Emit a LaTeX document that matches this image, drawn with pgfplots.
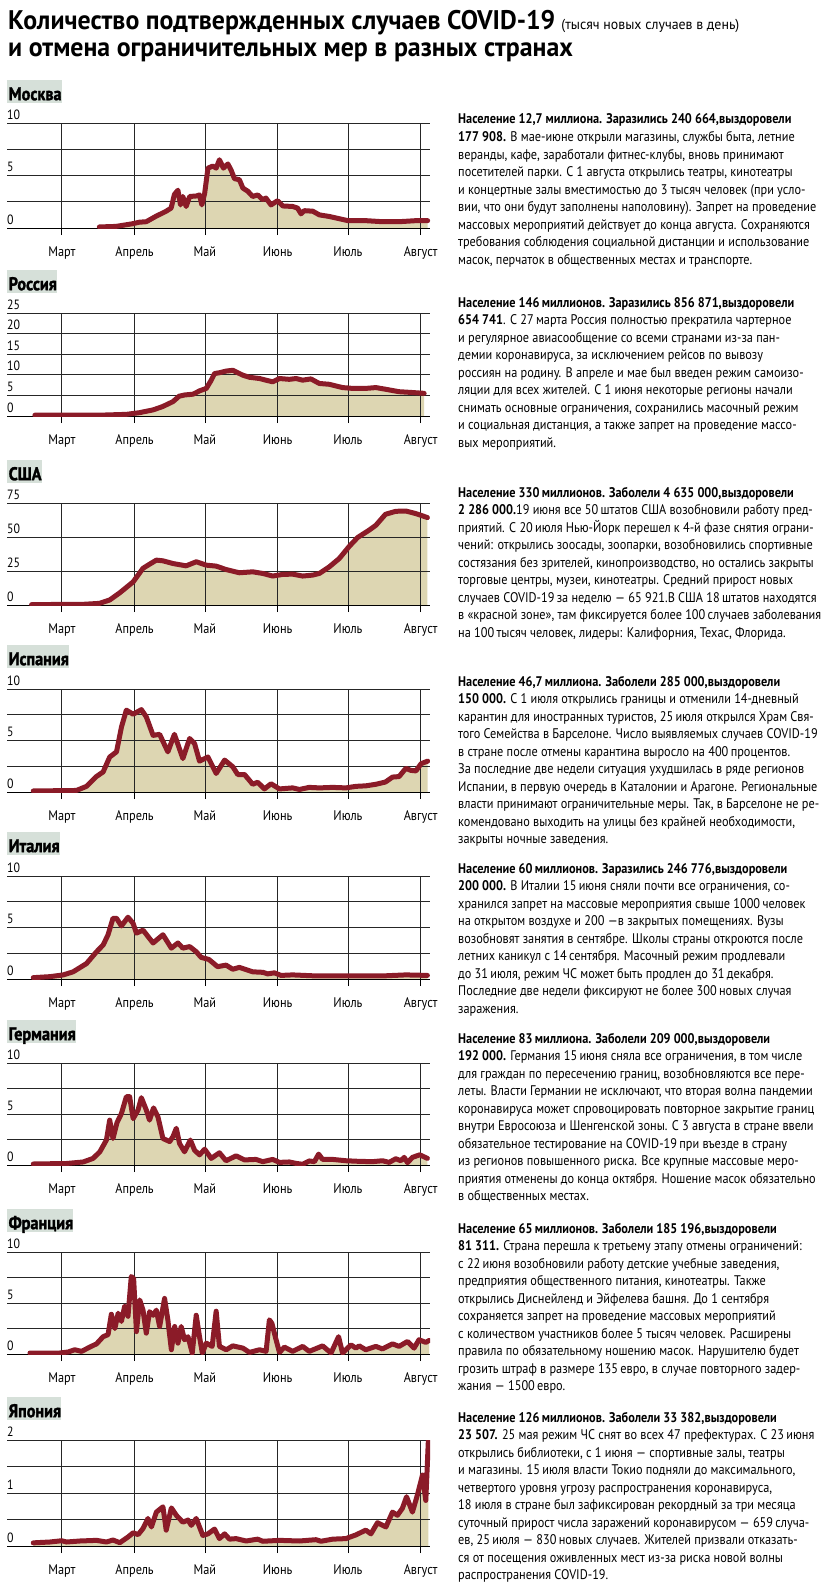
\documentclass[border=0pt]{standalone}
\usepackage{fontspec}
\setmainfont[FakeStretch=0.88]{PT Sans}
\newfontfamily\titlefont[FakeStretch=0.96]{PT Sans}
\newfontfamily\boxfont[FakeStretch=0.88, FakeBold=1.6]{PT Sans}
\usepackage{pgfplots}
\usepackage{pgfplotstable}
\pgfplotsset{compat=1.18}

\definecolor{fillc}{RGB}{221,214,178}
\definecolor{linec}{RGB}{139,27,40}
\definecolor{boxc}{RGB}{214,224,217}

% days counted from 1 March 2020, values in thousands per day
\pgfplotstableread{
d v
16 0.1
23 0.15
30 0.4
33 0.55
36 0.6
40 1.1
44.5 1.6
46.6 1.9
48 3.2
49.5 3.6
50.6 2.2
51.6 3.0
53 2.05
54.5 3.0
57.3 3.05
58.7 3.15
59.7 2.2
60.9 3.3
62.3 5.7
64.4 5.9
65.8 5.7
67.2 6.5
68.9 5.7
70.8 6.1
72.2 5.5
73.6 4.7
75.7 4.6
77.2 3.8
79.3 3.5
81.4 3.0
83.5 3.15
85.6 2.7
87 2.85
89.2 2.2
92 2.6
94.2 2.1
98.4 2.05
100.5 1.9
102 1.35
103.4 1.65
107 1.6
109.8 1.25
114 1.1
117 0.95
122 0.7
129.6 0.7
136.7 0.6
143.8 0.6
151 0.7
156 0.7
}\moscow

\pgfplotstableread{
d v
-11.5 0.2
2 0.2
16 0.2
27.5 0.4
33 0.8
39 1.5
43 2.3
47.4 3.5
50 4.8
52.3 5.1
56 5.3
58.7 6.1
61.6 6.7
63.7 8.7
65.1 10.3
67.2 10.5
70 10.9
72.9 11.1
74.3 10.7
77.2 9.9
80 9.4
84.3 9.1
87 8.7
89.9 8.3
92.8 9.1
97 8.9
99.9 9.1
102.7 8.7
106.2 9.0
109.8 7.9
114 7.7
119.7 6.9
124 6.7
129.6 6.7
133.9 6.9
138 6.5
143.8 5.9
149.5 5.7
154.5 5.5
}\russia

\pgfplotstableread{
d v
-12.9 0.3
9 0.5
16 1.2
20.4 3.7
24.7 9
30.4 17
34.6 27
37.4 30
40.3 33
43.1 32.5
47.4 30.5
53 28.8
57.3 31.8
61.6 29.3
65.8 28.6
70 26.1
75.7 23.7
81.4 24.4
85.7 23.2
89.9 21.3
94.2 22.5
98.4 22.7
102.7 21.3
107 22
109.8 23.2
114 28
118.3 34.2
122.6 43.2
126.1 49.6
131 55
133.9 58.6
138 66.7
142.4 68.9
146.7 69.1
151 67.2
155.9 64.3
}\usa

\pgfplotstableread{
d v
-12.2 0.1
6.2 0.15
10.5 0.55
14.7 1.5
17.6 1.95
20.4 3.4
23.3 3.9
25.4 6.3
27.5 7.95
30.4 7.55
33.9 8.0
36 7.3
38.9 5.5
41.7 5.6
45.2 3.9
48 5.6
51.6 3.25
54.5 5.2
56.6 4.7
58.7 3.0
62.3 3.4
65.8 1.8
69.4 3.1
72.9 2.45
75 1.7
77.9 1.7
81.4 0.75
83.5 0.95
86.4 0.3
89.2 0.8
92.8 0.3
98.4 0.4
101.3 0.25
105.5 0.45
109.8 0.4
115.5 0.45
121.1 0.4
125.4 0.55
129.6 0.6
133.9 0.75
138 0.97
141 1.45
143.8 1.5
146.7 2.3
148.8 2.1
151 2.05
153.2 2.75
156 3.0
}\spain

\pgfplotstableread{
d v
-12.2 0.13
-5.1 0.23
0.6 0.4
4.8 0.7
10.5 1.5
14.8 2.65
17.6 3.3
19.7 4.3
21.8 5.9
23.3 5.9
25.4 5.15
28.2 6.0
30.4 5.4
31.8 4.45
34.6 4.75
38.9 3.5
43.1 4.3
46.7 3.0
49.5 3.5
51.6 3.0
54.5 3.15
57.3 2.65
59.4 2.1
62.7 1.9
66.4 1.2
70 1.35
72.9 0.95
75.7 1.13
81.4 0.7
85.7 0.65
87.8 0.5
90.6 0.6
93.5 0.35
98.4 0.4
108.4 0.3
122.6 0.3
136.7 0.3
146.7 0.4
155.9 0.35
}\italy

\pgfplotstableread{
d v
-12.2 0.1
2 0.15
9.1 0.3
13.3 0.65
16.2 1.3
19 2.45
20.4 4.4
21.8 2.6
23.5 4.15
25.4 5.05
27.5 6.7
28.9 6.7
30.4 4.55
32.5 5.4
33.9 6.6
36 5.4
37.4 4.4
39.1 5.6
41 4.7
43.1 2.6
46 2.3
47.4 2.8
48.8 3.6
50.2 2.1
52.3 1.3
54.8 2.45
56.6 1.45
58.7 1.0
60.9 1.55
63.7 0.65
67.2 1.2
70 0.42
74.3 0.9
77.9 0.5
82.8 0.55
85.7 0.33
89.9 0.55
92.8 0.26
97 0.3
99.9 0.16
102.7 0.07
105.5 0.4
107.7 0.33
109.5 1.07
111.2 0.55
115.5 0.55
121.1 0.42
126.8 0.36
132.5 0.33
136.7 0.42
139.6 0.26
142.4 0.62
144.5 0.42
146 0.75
147.4 0.23
149.5 0.75
152.6 1.0
154.5 0.8
155.9 0.65
}\germany

\pgfplotstableread{
d v
-13.6 0.1
-0.9 0.1
2.7 0.2
5.5 0.42
8.4 0.26
11.9 0.68
14.8 1.0
17.6 1.7
19.7 1.9
21.1 3.9
22.6 2.5
24 4.0
25.4 3.2
26.8 4.7
28.2 3.7
29.6 7.6
30.6 7.4
31.8 2.2
33.2 5.3
34.6 4.3
36 2.05
37.4 4.15
38.9 3.8
40.3 4.3
41.7 2.7
43.8 5.45
45.2 3.35
46.7 0.42
48.1 2.7
49.5 1.07
50.9 2.7
52.3 1.4
53.8 1.7
55.6 0.1
57.3 3.8
58.7 1.7
59.9 0.1
61.6 1.07
64.1 0.75
65.8 4.2
67.2 0.75
70.1 0.42
72.9 0.8
77.2 0.58
80 0.16
84.3 0.42
87.1 0.26
88.5 3.35
89.6 3.0
91 1.7
92.8 0.16
94.9 0.68
98.4 0.26
102.7 0.75
105.5 0.26
111.2 0.8
114.8 0.1
118 1.7
119.7 0.1
123.3 0.9
125.4 0.58
126.8 0.8
129.6 0.42
133.9 0.75
136.7 0.5
141 1.0
143.8 0.75
147.4 1.23
150.2 0.58
152.3 1.4
155.2 1.14
156.6 1.33
}\france

\pgfplotstableread{
d v
-12.2 0.06
-5.1 0.076
-0.1 0.1
2 0.076
7.7 0.095
14.8 0.107
19 0.076
21.8 0.114
24.7 0.063
28.2 0.17
30.4 0.25
32.5 0.215
34.6 0.33
36.7 0.52
38.2 0.36
40.3 0.64
43.1 0.74
44.5 0.3
46.7 0.72
48.8 0.58
51.6 0.45
53.8 0.49
55.2 0.39
57.3 0.52
60.1 0.2
62.3 0.23
65.1 0.32
67.2 0.14
69.4 0.23
71.5 0.13
74.3 0.14
78.6 0.095
83.5 0.13
85.7 0.09
92.8 0.107
101.3 0.095
108.4 0.12
110.5 0.09
115.5 0.13
121.1 0.14
125.4 0.21
129.6 0.3
131.8 0.23
134.6 0.44
138.2 0.36
141 0.64
143.1 0.58
145.2 0.71
147 0.93
149.5 0.64
151.6 0.96
153.8 1.34
155.2 0.86
156.3 2.0
}\japan

\pgfplotsset{
  panel/.style={
    width=423bp, scale only axis, anchor=north west,
    xmin=-23.4, xmax=157, ymin=0,
    axis x line*=bottom, axis y line*=left,
    y axis line style={draw=none},
    x axis line style={black, line width=0.9bp},
    xtick={0,31,61,92,122,153},
    xticklabels={Март,Апрель,Май,Июнь,Июль,Август},
    xmajorgrids, ymajorgrids,
    grid style={black!85, line width=0.8bp},
    xtick align=outside, ytick align=inside,
    major tick length=7bp,
    major x tick style={black, line width=0.8bp},
    major y tick style={draw=none},
    xticklabel style={font=\fontsize{14}{14}\selectfont, yshift=-8bp},
    yticklabel style={font=\fontsize{13.5}{13.5}\selectfont, anchor=base west, inner sep=0pt, yshift=4bp},
    set layers,
  }
}

\newcommand{\panel}[6]{%
  \begin{axis}[panel, at={(7bp,-#1bp)}, height=#6bp, ymax=#2, ytick={#3}, yticklabels={#4}]
    \addplot[fill=fillc, draw=none, on layer=axis background] table[x=d, y=v] {#5} \closedcycle;
    \addplot[linec, line width=5bp, line join=round, line cap=round] table[x=d, y=v] {#5};
  \end{axis}}

\newcommand{\cbox}[2]{%
  \node[anchor=north west, fill=boxc, inner xsep=0pt, inner ysep=0pt, text height=20bp, text depth=3bp,
        font=\boxfont\bfseries\fontsize{18.5}{18.5}\selectfont] at (7,-#1) {\hspace{1.5bp}#2\hspace{8bp}};}

\newcommand{\desc}[2]{%
  \node[anchor=base west, inner sep=0pt] at (458,-#1)
    {\parbox[t]{366bp}{\raggedright\fontsize{14}{17.6}\selectfont #2}};}

\begin{document}
\begin{tikzpicture}[x=1bp, y=1bp]

\node[anchor=base west, inner sep=0pt] at (8,-30)
  {\titlefont\bfseries\fontsize{27}{27}\selectfont Количество подтвержденных случаев COVID-19\hspace{6bp}{\mdseries\fontsize{14.5}{14.5}\selectfont (тысяч новых случаев в день)}};
\node[anchor=base west, inner sep=0pt] at (8,-57)
  {\titlefont\bfseries\fontsize{27}{27}\selectfont и отмена ограничительных мер в разных странах};

% Москва
\cbox{80}{Москва}
\panel{123}{10}{0,2.5,...,10}{0,,5,,10}{\moscow}{105}
\desc{124}{\textbf{Население 12,7 миллиона. Заразились 240 664,выздоровели}\\
\textbf{177 908.} В мае-июне открыли магазины, службы быта, летние\\
веранды, кафе, заработали фитнес-клубы, вновь принимают\\
посетителей парки. С 1 августа открылись театры, кинотеатры\\
и концертные залы вместимостью до 3 тысяч человек (при усло-\\
вии, что они будут заполнены наполовину). Запрет на проведение\\
массовых мероприятий действует до конца августа. Сохраняются\\
требования соблюдения социальной дистанции и использование\\
масок, перчаток в общественных местах и транспорте.}

% Россия
\cbox{270}{Россия}
\panel{313}{25}{0,5,...,25}{0,5,10,15,20,25}{\russia}{103}
\desc{307}{\textbf{Население 146\,миллионов. Заразились 856 871,выздоровели}\\
\textbf{654 741}. С 27\,марта Россия полностью прекратила чартерное\\
и регулярное авиасообщение со всеми странами из-за пан-\\
демии коронавируса, за исключением рейсов по вывозу\\
россиян на родину. В апреле и мае был введен режим самоизо-\\
ляции для всех жителей. С 1 июня некоторые регионы начали\\
снимать основные ограничения, сохранились масочный режим\\
и социальная дистанция, а также запрет на проведение массо-\\
вых мероприятий.}

% США
\cbox{460}{США}
\panel{503}{75}{0,25,50,75}{0,25,50,75}{\usa}{102}
\desc{497}{\textbf{Население 330\,миллионов. Заболели 4 635 000,выздоровели}\\
\textbf{2 286 000.}19 июня все 50\,штатов США возобновили работу пред-\\
приятий. С 20\,июля Нью-Йорк перешел к 4-й фазе снятия ограни-\\
чений: открылись зоосады, зоопарки, возобновились спортивные\\
состязания без зрителей, кинопроизводство, но остались закрыты\\
торговые центры, музеи, кинотеатры. Средний прирост новых\\
случаев COVID-19\,за неделю — 65 921.В США 18\,штатов находятся\\
в «красной зоне», там фиксируется более 100\,случаев заболевания\\
на 100\,тысяч человек, лидеры: Калифорния, Техас, Флорида.}

% Испания
\cbox{645}{Испания}
\panel{689}{10}{0,2.5,...,10}{0,,5,,10}{\spain}{103}
\desc{686}{\textbf{Население 46,7\,миллиона. Заболели 285 000,выздоровели}\\
\textbf{150 000.} С 1 июля открылись границы и отменили 14-дневный\\
карантин для иностранных туристов, 25\,июля открылся Храм Свя-\\
того Семейства в Барселоне. Число выявляемых случаев COVID-19\\
в стране после отмены карантина выросло на 400\,процентов.\\
За последние две недели ситуация ухудшилась в ряде регионов\\
Испании, в первую очередь в Каталонии и Арагоне. Региональные\\
власти принимают ограничительные меры. Так, в Барселоне не ре-\\
комендовано выходить на улицы без крайней необходимости,\\
закрыты ночные заведения.}

% Италия
\cbox{832}{Италия}
\panel{876}{10}{0,2.5,...,10}{0,,5,,10}{\italy}{103}
\desc{873}{\textbf{Население 60\,миллионов. Заразились 246 776,выздоровели}\\
\textbf{200 000.} В Италии 15\,июня сняли почти все ограничения, со-\\
хранился запрет на массовые мероприятия свыше 1000\,человек\\
на открытом воздухе и 200 —в закрытых помещениях. Вузы\\
возобновят занятия в сентябре. Школы страны откроются после\\
летних каникул с 14\,сентября. Масочный режим продлевали\\
до 31\,июля, режим ЧС может быть продлен до 31\,декабря.\\
Последние две недели фиксируют не более 300\,новых случая\\
заражения.}

% Германия
\cbox{1020}{Германия}
\panel{1063}{10}{0,2.5,...,10}{0,,5,,10}{\germany}{102}
\desc{1043}{\textbf{Население 83\,миллиона. Заболели 209 000,выздоровели}\\
\textbf{192 000.} Германия 15\,июня сняла все ограничения, в том числе\\
для граждан по пересечению границ, возобновляются все пере-\\
леты. Власти Германии не исключают, что вторая волна пандемии\\
коронавируса может спровоцировать повторное закрытие границ\\
внутри Евросоюза и Шенгенской зоны. С 3 августа в стране ввели\\
обязательное тестирование на COVID-19\,при въезде в страну\\
из регионов повышенного риска. Все крупные массовые меро-\\
приятия отменены до конца октября. Ношение масок обязательно\\
в общественных местах.}

% Франция
\cbox{1209}{Франция}
\panel{1252}{10}{0,2.5,...,10}{0,,5,,10}{\france}{102}
\desc{1233}{\textbf{Население 65\,миллионов. Заболели 185 196,выздоровели}\\
\textbf{81 311.} Страна перешла к третьему этапу отмены ограничений:\\
с 22\,июня возобновили работу детские учебные заведения,\\
предприятия общественного питания, кинотеатры. Также\\
открылись Диснейленд и Эйфелева башня. До 1 сентября\\
сохраняется запрет на проведение массовых мероприятий\\
с количеством участников более 5 тысяч человек. Расширены\\
правила по обязательному ношению масок. Нарушителю будет\\
грозить штраф в размере 135\,евро, в случае повторного задер-\\
жания — 1500\,евро.}

% Япония
\cbox{1397}{Япония}
\panel{1440}{2}{0,0.5,...,2}{0,,1,,2}{\japan}{106}
\desc{1422}{\textbf{Население 126\,миллионов. Заболели 33 382,выздоровели}\\
\textbf{23 507.} 25 мая режим ЧС снят во всех 47 префектурах. С 23\,июня\\
открылись библиотеки, с 1 июня — спортивные залы, театры\\
и магазины. 15\,июля власти Токио подняли до максимального,\\
четвертого уровня угрозу распространения коронавируса,\\
18 июля в стране был зафиксирован рекордный за три месяца\\
суточный прирост числа заражений коронавирусом — 659\,случа-\\
ев, 25\,июля — 830\,новых случаев. Жителей призвали отказать-\\
ся от посещения оживленных мест из-за риска новой волны\\
распространения COVID-19.}

\pgfresetboundingbox
\path (0,0) rectangle (826,-1586);
\end{tikzpicture}
\end{document}
